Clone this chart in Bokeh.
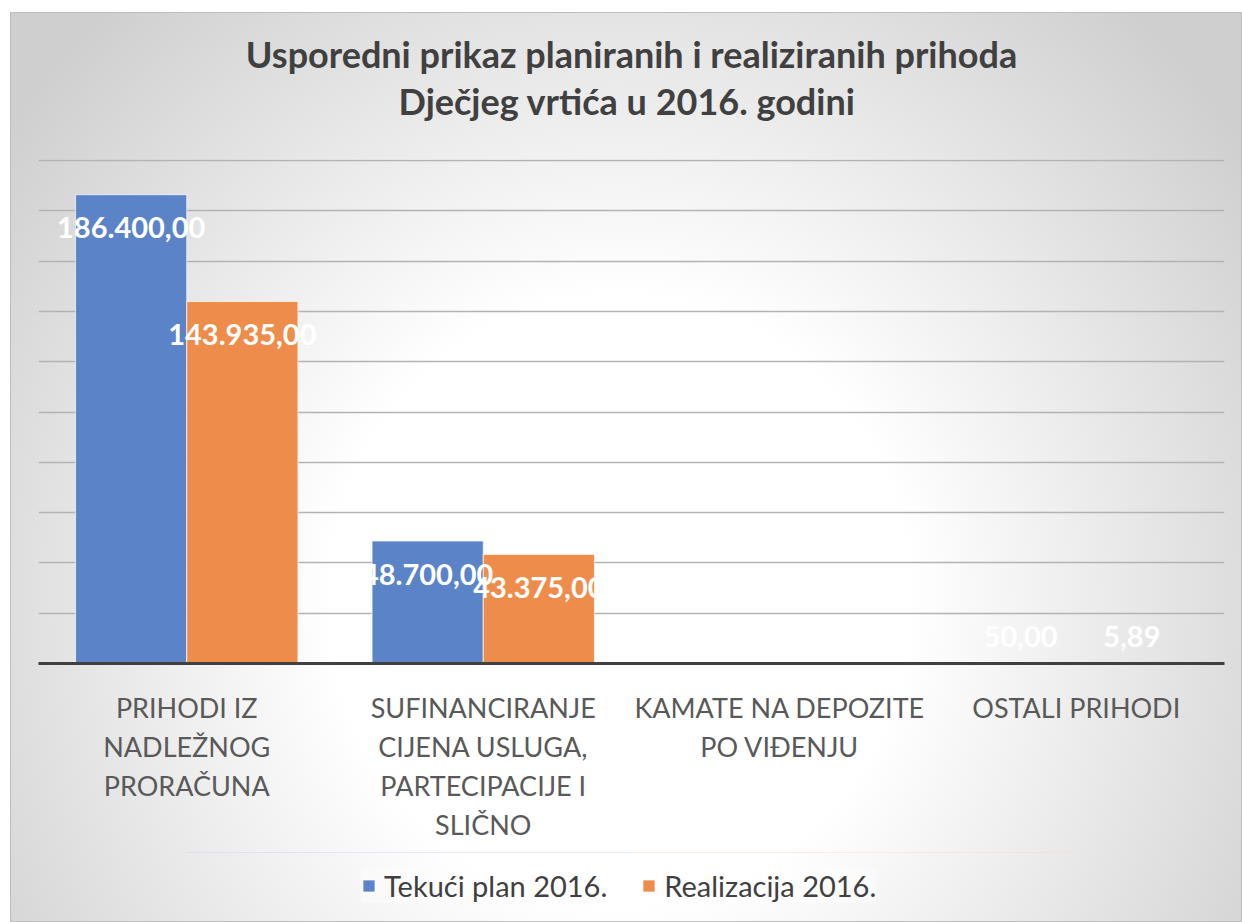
from bokeh.plotting import figure
from bokeh.layouts import column
from bokeh.models import (Range1d, Title, Legend, LegendItem,
                          SingleIntervalTicker, FixedTicker, ColumnDataSource,
                          LinearAxis)
from bokeh.transform import dodge
from bokeh.core.properties import value
from bokeh.embed import file_html
from bokeh.resources import INLINE

# ---------------- data ----------------
categories = [
    "PRIHODI IZ NADLEŽNOG PRORAČUNA",
    "SUFINANCIRANJE CIJENA USLUGA, PARTECIPACIJE I SLIČNO",
    "KAMATE NA DEPOZITE PO VIĐENJU",
    "OSTALI PRIHODI",
]
# tick labels, one list per printed line
tick_label_lines = [
    ["PRIHODI IZ", "SUFINANCIRANJE", "KAMATE NA DEPOZITE", "OSTALI PRIHODI"],
    ["NADLEŽNOG", "CIJENA USLUGA,", "PO VIĐENJU", " "],
    ["PRORAČUNA", "PARTECIPACIJE I", " ", " "],
    [" ", "SLIČNO", " ", " "],
]
plan_2016 = [186400.00, 48700.00, 0.00, 50.00]
realizacija_2016 = [143935.00, 43375.00, 0.00, 5.89]
series_names = ["Tekući plan 2016.", "Realizacija 2016."]
title_lines = ["Usporedni prikaz planiranih i realiziranih prihoda",
               "Dječjeg vrtića  u 2016. godini"]

# ---------------- styles ----------------
BLUE = "#5B84C8"
ORANGE = "#EE8D4B"
FONT = "Lato"

# category slot centres on a numeric x scale (one unit per category)
cat_centres = [i + 0.5 for i in range(len(categories))]


def hr_fmt(v):
    s = f"{v:,.2f}"
    return s.replace(",", "#").replace(".", ",").replace("#", ".")


def make_source(vals):
    return ColumnDataSource(dict(
        cat=categories,
        xc=cat_centres,
        val=vals,
        label=[hr_fmt(v) if v > 0 else "" for v in vals],
        yoff=[33 if v > 10000 else -27 for v in vals],
    ))


src_plan = make_source(plan_2016)
src_real = make_source(realizacija_2016)

p = figure(
    width=1232, height=840,
    x_range=Range1d(0, len(categories)),
    y_range=Range1d(0, 200400),
    output_backend="svg", toolbar_location=None,
    min_border_left=28, min_border_right=18,
    min_border_top=147, min_border_bottom=189,
)
p.background_fill_color = None
p.border_fill_color = None
p.outline_line_color = None

# titles (outer line 1, inner line 2)
p.title.text = title_lines[0]
p.title.align = "center"
p.title.text_font = FONT
p.title.text_font_size = "36px"
p.title.text_font_style = "bold"
p.title.text_color = "#404040"
p.title.standoff = -71
t2 = Title(text=title_lines[1], align="center", text_font=FONT,
           text_font_size="36px", text_font_style="bold",
           text_color="#404040", standoff=73)
p.add_layout(t2, "above")

# bars
r1 = p.vbar(x=dodge("xc", -0.1875), top="val", width=0.375,
            source=src_plan, fill_color=BLUE, line_color="white",
            line_alpha=0.7, line_width=1)
r2 = p.vbar(x=dodge("xc", 0.1875), top="val", width=0.375,
            source=src_real, fill_color=ORANGE, line_color="white",
            line_alpha=0.7, line_width=1)

# data labels
for src, off in ((src_plan, -0.1875), (src_real, 0.1875)):
    p.text(x=dodge("xc", off), y="val", text="label",
           y_offset="yoff", source=src, text_align="center",
           text_baseline="middle", text_color="white",
           text_font=value(FONT), text_font_style="bold",
           text_font_size="29px")

# grid
p.yaxis.visible = False
p.xaxis.visible = False
p.xgrid.grid_line_color = None
p.ygrid.ticker = SingleIntervalTicker(interval=20000)
p.ygrid.grid_line_color = "#b3b3b3"
p.ygrid.grid_line_width = 1.5

# category labels: one axis per text line, ticks at category centres
for k, line in enumerate(tick_label_lines):
    ax = LinearAxis(ticker=FixedTicker(ticks=cat_centres))
    ax.major_label_overrides = {t: lab for t, lab in zip(cat_centres, line)}
    ax.major_tick_line_color = None
    ax.minor_tick_line_color = None
    ax.major_tick_out = 0
    ax.major_tick_in = 0
    ax.minor_tick_out = 0
    ax.major_label_text_font = FONT
    ax.major_label_text_font_size = "27px"
    ax.major_label_text_color = "#595959"
    if k == 0:
        ax.axis_line_color = "#404040"
        ax.axis_line_width = 3
        ax.major_label_standoff = 27
    else:
        ax.axis_line_color = None
        ax.major_label_standoff = 3
    p.add_layout(ax, "below")

# legend strip below the chart: same series glyphs, their bars lie outside
# this strip's view, so only the legend is visible here
p2 = figure(width=1232, height=70, x_range=Range1d(0, 1),
            y_range=Range1d(-2, -1),
            output_backend="svg", toolbar_location=None, min_border=0)
p2.axis.visible = False
p2.grid.visible = False
p2.background_fill_color = None
p2.border_fill_color = None
p2.outline_line_color = None
k1 = p2.vbar(x=dodge("xc", -0.1875), top="val", width=0.375, source=src_plan,
             fill_color=BLUE, line_color="white", line_alpha=0.7)
k2 = p2.vbar(x=dodge("xc", 0.1875), top="val", width=0.375, source=src_real,
             fill_color=ORANGE, line_color="white", line_alpha=0.7)
legend = Legend(
    items=[LegendItem(label=series_names[0], renderers=[k1], index=0),
           LegendItem(label=series_names[1], renderers=[k2], index=0)],
    orientation="horizontal", location=(323, 19),
    label_text_font=FONT, label_text_font_size="29px",
    label_text_color="#404040",
    glyph_width=15, glyph_height=15, label_standoff=8,
    spacing=34, padding=10,
    background_fill_color="white", background_fill_alpha=0.35,
    border_line_color=None,
)
p2.add_layout(legend, "center")

layout = column(p, p2, spacing=0)
layout.margin = (12, 0, 0, 10)
layout.styles = {
    "background-image": "radial-gradient(ellipse 760px 800px at 610px 588px, "
                        "#ffffff 0%, #ffffff 38%, #cfcfcf 100%)",
    "box-shadow": "inset 0 0 0 1px #bdbdbd",
}

open("out.html", "w").write(file_html(layout, INLINE))
